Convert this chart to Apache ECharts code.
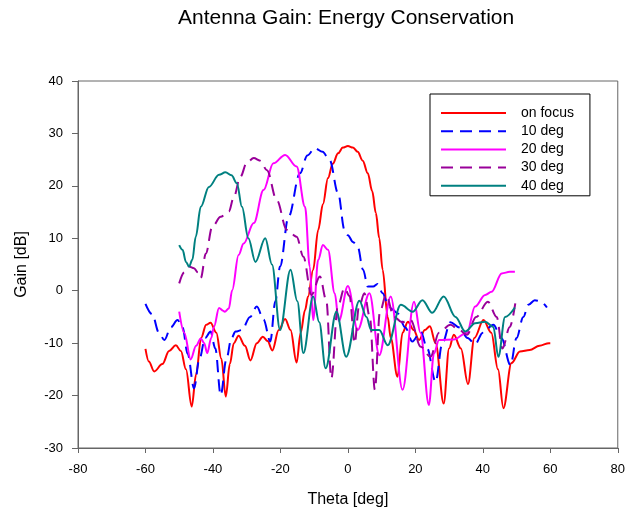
<!DOCTYPE html>
<html>
<head>
<meta charset="utf-8">
<script src="https://cdn.jsdelivr.net/npm/echarts/dist/echarts.min.js"></script>
<style>
html,body{margin:0;padding:0;background:#fff;}
#chart{width:628px;height:514px;}
</style>
</head>
<body>
<div id="chart"></div>
<script>
var seriesNames = ['on focus', '10 deg', '20 deg', '30 deg', '40 deg'];
var xTicks = [-80, -60, -40, -20, 0, 20, 40, 60, 80];
var yTicks = [-30, -20, -10, 0, 10, 20, 30, 40];

var onFocus = [[-60,-11.1],[-59,-13.5],[-57.4,-15.4],[-55,-14],[-53,-11.5],[-51,-10.4],[-49.5,-11.5],[-48,-15],[-46.3,-22.1],[-45,-16],[-43.5,-9],[-42,-6.5],[-40.7,-6.1],[-39,-8],[-37.5,-13],[-36.2,-20.2],[-35,-14],[-33.8,-10],[-32.4,-8.6],[-30.5,-10.5],[-28.9,-13.3],[-27,-10],[-25.2,-8.8],[-23.8,-9.6],[-22.4,-11.4],[-20.5,-7.5],[-18.6,-5.4],[-17,-7.5],[-15.2,-13.7],[-14,-8],[-12.7,-3.7],[-11.8,-1.1],[-10.3,4],[-8.8,11.6],[-7.4,16.5],[-5.9,21.5],[-4.5,24.2],[-2.9,26.2],[-1.5,27.3],[0,27.6],[1.5,27.3],[2.9,26.5],[4.4,24.8],[5.9,22.4],[7.2,19],[8.3,14.8],[9.3,10],[10.3,4],[11.8,-5],[12.7,-9],[14.7,-16.4],[16.2,-8],[17.8,-5.9],[19.5,-7.5],[21.1,-9.4],[22.8,-7.5],[24.3,-6.8],[26,-10],[28.4,-21.5],[30,-11],[31.4,-8.4],[33.5,-11],[35.6,-17.8],[37.5,-9],[40.2,-5.6],[42.5,-8],[44.5,-15],[46.1,-22.4],[48.5,-13.8],[51,-11.6],[53.9,-11.3],[56.8,-10.5],[59.6,-10.0],[60,-10.0]];

var deg10 = [[-60,-2.5],[-58,-4.5],[-56,-8],[-54.4,-9.4],[-52.5,-7],[-50.5,-5.6],[-49,-7],[-47.5,-12],[-45.6,-18.6],[-44,-13],[-42.3,-9],[-40.7,-7.8],[-39.3,-11],[-37.7,-19.9],[-36,-13],[-34.5,-9],[-33.3,-7.8],[-31.4,-7.5],[-29,-5],[-27,-3.0],[-25,-5.5],[-23,-9.7],[-21.5,-2],[-20.1,4.6],[-17.6,14.1],[-14.2,22.4],[-12,25.8],[-9.8,27.2],[-7.5,26.5],[-5.4,24.9],[-2.9,18.6],[-1,11.6],[0,10.6],[1.5,9.3],[2.9,8.4],[4.5,4],[5.9,0.8],[7.5,0.8],[8.8,1.3],[10.3,-0.5],[11.8,-2.4],[13,-3.5],[14.7,-4.3],[17,-7],[19.1,-9.7],[21.6,-7.8],[23.5,-11],[26,-17.4],[28,-10],[30.4,-6.0],[33,-7],[35.5,-9],[37.7,-10.2],[40,-8],[43.1,-6.5],[45.5,-9],[48.2,-14.2],[50,-9],[52,-5],[53.5,-2.7],[55.4,-1.8],[57,-2],[59,-3.2]];

var deg20 = [[-50,-4],[-48.5,-8],[-46.6,-13.1],[-45,-10.5],[-43.6,-9.1],[-42.6,-10],[-41.7,-11.9],[-40.5,-9],[-39.7,-6.9],[-38.2,-3.3],[-37,-3.8],[-36.5,-4],[-35.3,-3.4],[-34.3,0.1],[-32.4,6.8],[-30.9,9],[-27.9,12.9],[-25,19.2],[-22.1,24.3],[-18.6,25.9],[-15.2,23.7],[-12.7,16],[-11.3,4.6],[-10.3,-5.6],[-8.8,5.9],[-7.4,8.7],[-5.9,7.8],[-3.9,-0.5],[-2.7,-5.8],[0,0.9],[2.9,-7.5],[6.4,-0.5],[9.3,-12.3],[12.7,-1.1],[16.2,-18.9],[19.6,-2.1],[21.5,-8],[24,-21.8],[25.5,-12],[27,-9.4],[31.4,-9.3],[35.3,-8],[37.7,-3],[40.7,-0.8],[42.6,-0.2],[45.6,3.3],[48,3.6],[49.5,3.6]];

var deg30 = [[-50,1.4],[-48.5,3.5],[-47.1,4.6],[-45.6,4.3],[-44.5,3.5],[-43.6,2.4],[-42.1,7.1],[-40.2,12.2],[-37.7,14.1],[-35.3,15.1],[-33.8,17.9],[-31.9,21.7],[-29.9,24.5],[-27.9,25.3],[-26,24.8],[-24,23],[-21.1,17.3],[-18.1,11.6],[-16.5,10.7],[-15.2,10.3],[-13.2,6.5],[-10.8,-0.8],[-8.3,2.7],[-6.4,-1.8],[-4.9,-16.7],[-3,-3],[-1,0.5],[0.5,-1],[2,-10],[3.3,-3],[4.9,-0.5],[6.5,-5],[8,-18.9],[9.5,-4],[11.3,-0.8],[13.7,-5],[16,-6],[18.6,-5.6],[21.6,-10.7],[24.5,-12.6],[27,-8],[30.4,-6.5],[33,-7.5],[35.3,-8.4],[38,-5],[41.5,-2.1],[44.1,-5],[45.8,-11],[48,-6.9],[49.7,-2.1]];

var deg40 = [[-50,8.7],[-49,7.8],[-48,5.5],[-47.1,4.6],[-46.1,5.9],[-45.1,10.3],[-43.6,16],[-41.2,19.8],[-38.2,22.1],[-36.3,22.6],[-34.5,22],[-32.9,20.5],[-31.4,16],[-29.5,10],[-27.4,5.5],[-24.5,10],[-22.5,5],[-20.1,-7.5],[-17,4],[-15,-2],[-13.2,-11.9],[-10.3,-1.1],[-8.5,-6],[-6.6,-14.8],[-3.4,-4],[-0.5,-12.6],[3.4,-1.9],[5.5,-5],[6.9,-7.5],[9.3,-7.5],[11.8,-10.4],[15.7,-2.7],[19.2,-4],[22.1,-1.8],[25,-4.2],[28.4,-1.1],[31.9,-5],[34.8,-7.8],[37.7,-6.2],[40.7,-5.9],[43.1,-6.9],[44.6,-12.6],[46.6,-5],[49.5,-3.2]];

var seriesData = [onFocus, deg10, deg20, deg30, deg40];
var colors = ['#ff0000', '#0000ff', '#ff00ff', '#990099', '#008080'];
var lineTypes = ['solid', [12, 7], 'solid', [12, 7], 'solid'];

var FONT = '"Liberation Sans", Arial, sans-serif';
var chart = echarts.init(document.getElementById('chart'), null, {renderer: 'canvas'});

var series = seriesNames.map(function (name, i) {
  return {
    name: name,
    type: 'line',
    data: seriesData[i],
    showSymbol: false,
    symbol: 'none',
    smooth: 0.35,
    smoothMonotone: 'x',
    lineStyle: {color: colors[i], width: 2, type: lineTypes[i]},
    itemStyle: {color: colors[i]},
    animation: false
  };
});

chart.setOption({
  backgroundColor: '#ffffff',
  animation: false,
  title: {
    text: 'Antenna Gain: Energy Conservation',
    left: 173, top: 3,
    textStyle: {fontFamily: FONT, fontSize: 21, fontWeight: 'normal', color: '#000'}
  },
  legend: {
    data: seriesNames,
    orient: 'vertical',
    left: 430, top: 94,
    padding: [12, 16, 3, 10],
    itemWidth: 65, itemHeight: 14, itemGap: 4.2,
    borderColor: '#000', borderWidth: 1,
    itemStyle: {opacity: 0},
    textStyle: {fontFamily: FONT, fontSize: 14, color: '#000', padding: [0, 0, 0, 10]}
  },
  grid: {
    left: 78, right: 6, top: 81, bottom: 66,
    show: true, borderColor: '#666', borderWidth: 1, backgroundColor: 'transparent'
  },
  xAxis: {
    type: 'value', min: -80, max: 80, interval: 20,
    name: 'Theta [deg]', nameLocation: 'middle', nameGap: 44,
    nameTextStyle: {fontFamily: FONT, fontSize: 16, color: '#000'},
    axisLine: {show: true, onZero: false, lineStyle: {color: '#666', width: 1}},
    axisTick: {show: true, length: 5, lineStyle: {color: '#666'}},
    axisLabel: {fontFamily: FONT, fontSize: 13, color: '#000', margin: 15,
      formatter: function (v) { return xTicks.indexOf(v) >= 0 ? String(v) : ''; }},
    splitLine: {show: false}
  },
  yAxis: {
    type: 'value', min: -30, max: 40, interval: 10,
    name: 'Gain [dB]', nameLocation: 'middle', nameGap: 48, nameRotate: 90,
    nameTextStyle: {fontFamily: FONT, fontSize: 16, color: '#000'},
    axisLine: {show: true, onZero: false, lineStyle: {color: '#666', width: 1}},
    axisTick: {show: true, length: 6, lineStyle: {color: '#666'}},
    axisLabel: {fontFamily: FONT, fontSize: 13, color: '#000', margin: 15,
      formatter: function (v) { return yTicks.indexOf(v) >= 0 ? String(v) : ''; }},
    splitLine: {show: false}
  },
  series: series
});
</script>
</body>
</html>
